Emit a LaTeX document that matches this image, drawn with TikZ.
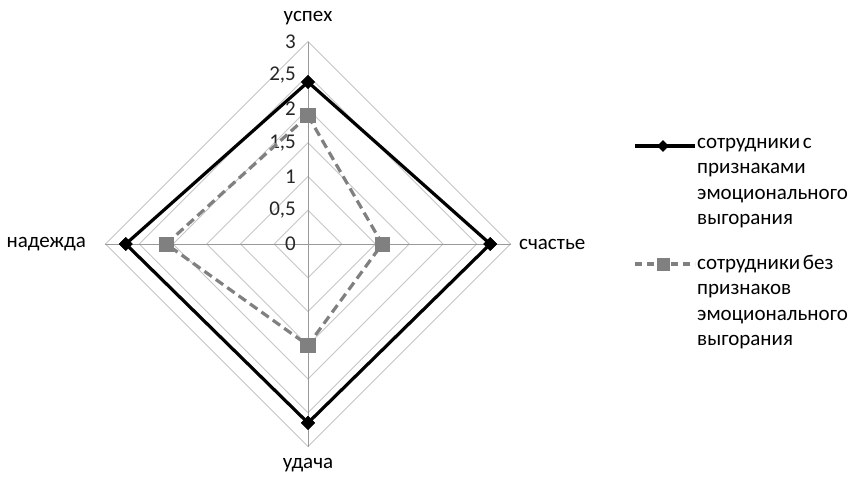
\documentclass[tikz,border=0pt]{standalone}
\usepackage{fontspec}
\setmainfont{Carlito}[WordSpace=0.6]
\usetikzlibrary{positioning,shapes.geometric}

\begin{document}
\begin{tikzpicture}[x=1pt,y=1pt, font=\fontsize{21}{25.5}\selectfont,
    ring/.style={draw=gray!45, line width=0.8pt},
    spoke/.style={draw=gray!80, line width=0.8pt},
    blackline/.style={line width=3.2pt, black},
    grayline/.style={line width=3.2pt, gray, dash pattern=on 9pt off 5pt},
    blackmark/.style={diamond, fill=black, inner sep=0pt, minimum size=14pt},
    graymark/.style={rectangle, fill=gray, inner sep=0pt, minimum size=15pt},
    ticklabel/.style={anchor=east, inner sep=0pt, text=black!85},
    legendtext/.style={anchor=north west, inner sep=0pt, align=left}]
    \useasboundingbox (-308,-236) rectangle (543,244);
    % rings and spokes
    \coordinate (c) at (0,0);
    \foreach \i in {1,...,6}
        \draw[ring] (0:\i*33.75) -- (90:\i*33.75) -- (180:\i*33.75) -- (270:\i*33.75) -- cycle;
    \coordinate (ax-up) at (90:202.5);
    \coordinate (ax-right) at (0:202.5);
    \coordinate (ax-down) at (270:202.5);
    \coordinate (ax-left) at (180:202.5);
    \draw[spoke] (ax-up)--(ax-down);
    \draw[spoke] (ax-left)--(ax-right);
    \foreach \i/\t in {0/0,1/{0,5},2/1,3/{1,5},4/2,5/{2,5},6/3}
        \node[ticklabel] (tick-\i) at (-12,\i*33.75) {\t};
    % axis labels
    \node (lab-up) at (0,226) {успех};
    \node[anchor=west, inner sep=0pt] (lab-right) at (211,0) {счастье};
    \node (lab-down) at (0,-221) {удача};
    \node[anchor=east, inner sep=0pt] (lab-left) at (-222,0) {надежда};

    % employees with burnout
    \node[blackmark] (b-up) at (90:2.4*67.5) {};
    \node[blackmark] (b-right) at (0:2.7*67.5) {};
    \node[blackmark] (b-down) at (270:2.65*67.5) {};
    \node[blackmark] (b-left) at (180:2.7*67.5) {};
    \draw[blackline] (b-up.center)--(b-right.center)--(b-down.center)--(b-left.center)--cycle;
    \foreach \p in {up,right,down,left}
        \node[blackmark] at (b-\p) {};

    % employees without burnout
    \node[graymark] (g-up) at (90:1.9*67.5) {};
    \node[graymark] (g-right) at (0:1.1*67.5) {};
    \node[graymark] (g-down) at (270:1.5*67.5) {};
    \node[graymark] (g-left) at (180:2.1*67.5) {};
    \draw[grayline] (g-up.center)--(g-right.center)--(g-down.center)--(g-left.center)--cycle;
    \foreach \p in {up,right,down,left}
        \node[graymark] at (g-\p) {};

    % legend
    \coordinate (leg1-l) at (327,98);
    \coordinate (leg1-r) at (387,98);
    \draw[blackline] (leg1-l)--(leg1-r);
    \node[blackmark, minimum size=12pt] (leg1-m) at (355,98) {};
    \node[legendtext] (leg1-t) at (389,106) {сотрудники с\\признаками\\эмоционального\\выгорания};

    \coordinate (leg2-l) at (327,-20);
    \coordinate (leg2-r) at (387,-20);
    \draw[grayline, dash pattern=on 7pt off 5pt] (leg2-l)--(leg2-r);
    \node[graymark, minimum size=13pt] (leg2-m) at (355,-20) {};
    \node[legendtext] (leg2-t) at (389,-11) {сотрудники без\\признаков\\эмоционального\\выгорания};
\end{tikzpicture}
\end{document}
